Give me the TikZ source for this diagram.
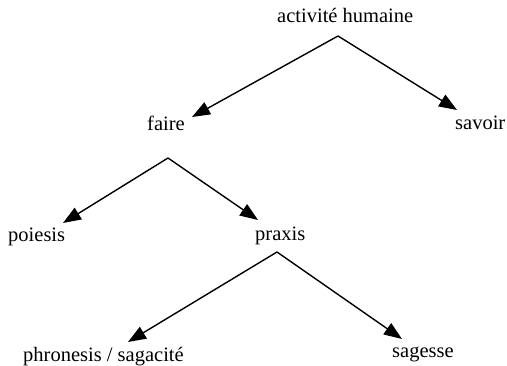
\documentclass[tikz,border=0pt]{standalone}
\usepackage{fontspec}
\setmainfont{Liberation Serif}
\usetikzlibrary{arrows.meta}
\begin{document}
\begin{tikzpicture}[x=1pt,y=-1pt,
  lbl/.style={anchor=base west,inner sep=0pt,font=\fontsize{20.5}{24}\selectfont},
  arr/.style={line width=1.4pt,-{Triangle[length=18pt,width=13.5pt]}}]
\useasboundingbox (0,0) rectangle (507,366);
\node[lbl] (act) at (277,23) {activité humaine};
\node[lbl] (faire) at (147,131) {faire};
\node[lbl] (savoir) at (455,130) {savoir};
\node[lbl] (poiesis) at (8,242) {poiesis};
\node[lbl] (praxis) at (255,241) {praxis};
\node[lbl] (phron) at (23,362) {phronesis / sagacité};
\node[lbl] (sagesse) at (392,358) {sagesse};
\coordinate (actS) at (338,36);
\coordinate (faireN) at (192,117);
\coordinate (savoirN) at (457,110);
\coordinate (faireS) at (168,158);
\coordinate (poiesisN) at (63,223);
\coordinate (praxisN) at (258,220);
\coordinate (praxisS) at (277,252);
\coordinate (phronN) at (128,342);
\coordinate (sagesseN) at (402,339);
\draw[arr] (actS) -- (faireN);
\draw[arr] (actS) -- (savoirN);
\draw[arr] (faireS) -- (poiesisN);
\draw[arr] (faireS) -- (praxisN);
\draw[arr] (praxisS) -- (phronN);
\draw[arr] (praxisS) -- (sagesseN);
\end{tikzpicture}
\end{document}
